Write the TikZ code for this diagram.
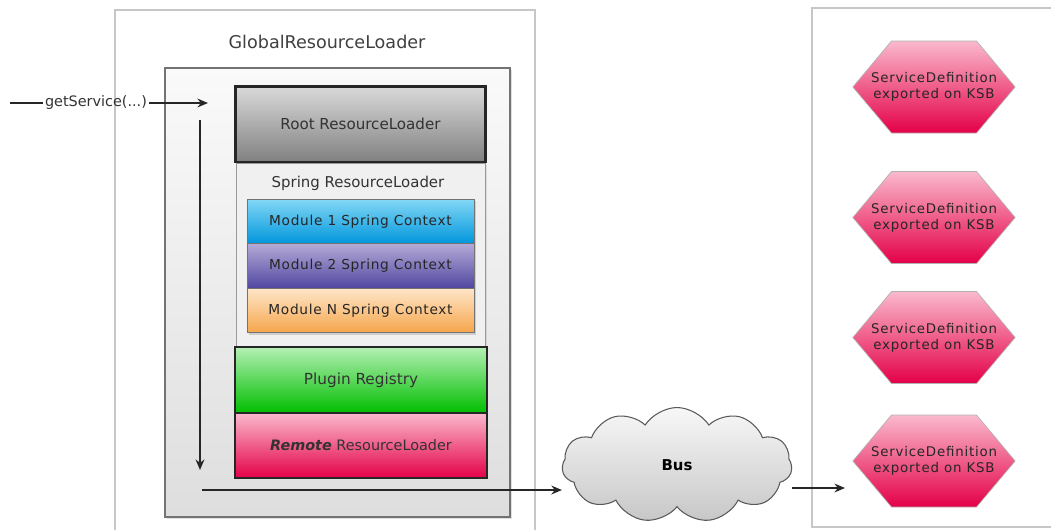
\documentclass[tikz,border=0pt]{standalone}
\usepackage{fontspec}
\setmainfont{DejaVu Sans}
\usepackage{xcolor}
\usetikzlibrary{arrows.meta,shapes.symbols,shadows}

\definecolor{rootTop}{RGB}{218,218,218}
\definecolor{rootBot}{RGB}{128,128,128}
\definecolor{modATop}{RGB}{130,215,245}
\definecolor{modABot}{RGB}{0,150,220}
\definecolor{modBTop}{RGB}{180,170,215}
\definecolor{modBBot}{RGB}{80,70,160}
\definecolor{modCTop}{RGB}{255,230,200}
\definecolor{modCBot}{RGB}{245,165,75}
\definecolor{plugTop}{RGB}{180,240,180}
\definecolor{plugBot}{RGB}{0,190,0}
\definecolor{remTop}{RGB}{250,185,205}
\definecolor{remBot}{RGB}{228,0,72}

\begin{document}
\begin{tikzpicture}[x=0.02cm,y=-0.02cm,
    font=\fontsize{8}{9.5}\selectfont,
    flow/.style={draw=black!85,line width=1pt,-{Stealth[length=6pt,width=5pt]}},
    layer/.style={draw=black!85,line width=0.8pt,minimum width=5.04cm,text=black!80},
    modbox/.style={draw=black!55,line width=0.4pt,minimum width=4.54cm,minimum height=0.89cm,
      text=black!85,font=\fontsize{7.8}{9}\selectfont\addfontfeatures{LetterSpace=5}},
    svcdef/.style={signal,signal to=west and east,signal pointer angle=100,draw=black!30,
      minimum width=0pt,minimum height=1.84cm,inner xsep=-0.41cm,inner ysep=0pt,
      top color=remTop,bottom color=remBot,
      align=center,text=black!85,font=\fontsize{7.6}{9}\selectfont\addfontfeatures{LetterSpace=6}}]
  \useasboundingbox (0,0) rectangle (1051,529);
  \clip (0,0) rectangle (1051,529);

  % frames
  \draw[black!22,line width=0.8pt] (115,10) rectangle (535,560);
  \draw[black!22,line width=0.8pt] (812,8) rectangle (1070,527);
  \draw[black!55,line width=0.8pt,top color=black!2,bottom color=black!13,
    drop shadow={opacity=0.25,shadow xshift=1pt,shadow yshift=-1pt}] (165,68) rectangle (510,517);
  \node[text=black!75,font=\fontsize{10}{12}\selectfont] (globallbl) at (327,42) {GlobalResourceLoader};

  % loader stack
  \node[draw=black!40,fill=black!6,minimum width=4.98cm,minimum height=3.68cm,
    drop shadow={opacity=0.2,shadow xshift=1pt,shadow yshift=-1pt}] (spring) at (360.5,255) {};
  \node[text=black!80,font=\fontsize{8.5}{10}\selectfont] (springlbl) at (358,183) {Spring ResourceLoader};
  \node[layer,line width=1.7pt,minimum width=5.02cm,minimum height=1.52cm,
    top color=rootTop,bottom color=rootBot,font=\fontsize{8.6}{10}\selectfont] (root) at (360.5,124) {Root ResourceLoader};
  \foreach \i/\y/\lab/\c in {
     1/221.5/{Module 1 Spring Context}/modA,
     2/266/{Module 2 Spring Context}/modB,
     3/310.5/{Module N Spring Context}/modC}
  { \node[modbox,top color=\c Top,bottom color=\c Bot,
      drop shadow={opacity=0.3,shadow xshift=1pt,shadow yshift=-1pt}] (mod\i) at (360.5,\y) {\lab}; }
  \node[layer,minimum height=1.32cm,top color=plugTop,bottom color=plugBot,font=\fontsize{8.7}{10}\selectfont] (plugin) at (361,380) {Plugin Registry};
  \node[layer,minimum height=1.3cm,top color=remTop,bottom color=remBot,font=\fontsize{8.2}{10}\selectfont] (remote) at (361,445.5)
    {\textbf{\textit{Remote}} ResourceLoader};

  % bus
  \node[cloud,cloud puffs=11,cloud puff arc=115,aspect=2.2,draw=black!65,line width=0.6pt,
    top color=black!3,bottom color=black!22,minimum width=4.6cm,minimum height=2.3cm,
    font=\bfseries\fontsize{8.5}{10}\selectfont] (bus) at (677,465) {Bus};

  % exported services
  \foreach \i/\y in {1/87,2/217.5,3/337.5,4/461}
  { \node[svcdef] (svc\i) at (934,\y) {ServiceDefinition\\exported on KSB}; }

  % calls
  \coordinate (callsrc) at (10,103);
  \coordinate (calltip) at (208,103);
  \coordinate (walktop) at (200,120);
  \coordinate (walkend) at (200,470);
  \coordinate (busin) at (202,490);
  \coordinate (busout) at (845,488);
  \node[text=black!80,font=\fontsize{8.2}{9}\selectfont,inner sep=1pt] (call) at (96,103) {getService(...)};
  \draw[black!85,line width=1pt] (callsrc) -- (call);
  \draw[flow] (call) -- (calltip);
  \draw[flow] (walktop) -- (walkend);
  \draw[flow] (busin) -- (busin -| bus.west);
  \draw[flow] (busout -| bus.east) -- (busout);
\end{tikzpicture}
\end{document}
